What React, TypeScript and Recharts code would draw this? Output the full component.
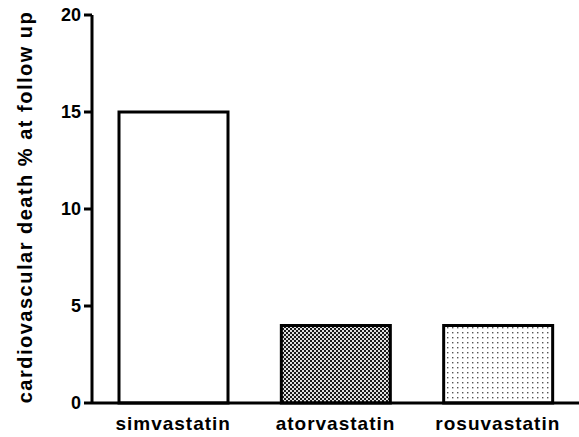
import React from "react";
import { BarChart, Bar, XAxis, YAxis, Cell } from "recharts";

const categories = ["simvastatin", "atorvastatin", "rosuvastatin"];
const values = [15, 4, 4];
const yTicks = [0, 5, 10, 15, 20];
const fills = ["#ffffff", "url(#checker)", "url(#dots)"];

const data = categories.map((name, i) => ({ name, value: values[i] }));

const font = "'Liberation Sans', Arial, sans-serif";

export default function App() {
  return (
    <div style={{ position: "absolute", left: 0, top: 0, width: 579, height: 437, background: "#fff" }}>
      <BarChart
        width={579}
        height={437}
        data={data}
        margin={{ top: 15, right: 0, bottom: 0, left: 30 }}
        barSize={109}
      >
        <defs>
          <pattern id="checker" width="4" height="4" patternUnits="userSpaceOnUse">
            <rect x="0" y="0" width="4" height="4" fill="#1a1a1a" />
            <rect x="0" y="0" width="2" height="2" fill="#e0e0e0" />
            <rect x="2" y="2" width="2" height="2" fill="#e0e0e0" />
          </pattern>
          <pattern id="dots" width="5" height="5" patternUnits="userSpaceOnUse">
            <rect x="0" y="0" width="5" height="5" fill="#ffffff" />
            <rect x="2" y="2" width="1.4" height="1.4" fill="#555555" />
          </pattern>
        </defs>
        <XAxis
          dataKey="name"
          axisLine={{ stroke: "#000", strokeWidth: 3 }}
          tickLine={false}
          height={34}
          tick={{ fill: "#000", fontSize: 19, fontWeight: "bold", fontFamily: font, letterSpacing: 1 }}
          tickMargin={8}
        />
        <YAxis
          domain={[0, 20]}
          ticks={yTicks}
          width={62}
          axisLine={{ stroke: "#000", strokeWidth: 3 }}
          tickLine={{ stroke: "#000", strokeWidth: 3 }}
          tickSize={8}
          tickMargin={3}
          tick={{ fill: "#000", fontSize: 18, fontWeight: "bold", fontFamily: font }}
          label={{
            value: "cardiovascular death % at follow up",
            angle: -90,
            position: "insideLeft",
            dx: -10,
            dy: -2,
            style: { textAnchor: "middle", fill: "#000", fontSize: 20, fontWeight: "bold", fontFamily: font, letterSpacing: 1.5 },
          }}
        />
        <Bar dataKey="value" stroke="#000" strokeWidth={3} isAnimationActive={false}>
          {data.map((d, i) => (
            <Cell key={d.name} fill={fills[i]} />
          ))}
        </Bar>
      </BarChart>
    </div>
  );
}
